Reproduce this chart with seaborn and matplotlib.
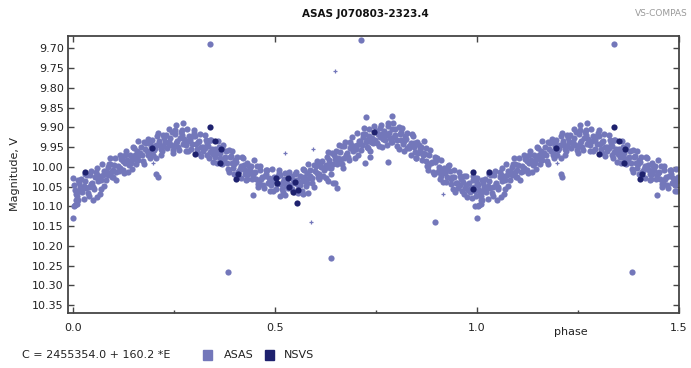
import matplotlib
matplotlib.use("Agg")
import matplotlib.pyplot as plt
import seaborn as sns
import pandas as pd
from matplotlib.patches import Rectangle
from matplotlib.ticker import FixedLocator

# ---------------- data ----------------
title = "ASAS J070803-2323.4"
epoch_text = "C = 2455354.0 + 160.2 *E"
x_ticks = [0.0, 0.5, 1.0, 1.5]
x_tick_labels = ["0.0", "0.5", "1.0", "1.5"]
y_ticks = [9.70, 9.75, 9.80, 9.85, 9.90, 9.95, 10.00, 10.05, 10.10, 10.15,
           10.20, 10.25, 10.30, 10.35]

# ASAS: magnitudes read in each 0.01-wide phase bin (bin i starts at 0.01*i)
asas_bin_mags = [
    [10.028, 10.047, 10.058, 10.069, 10.084], [10.033, 10.050, 10.061, 10.073, 10.040],
    [10.017, 10.032, 10.053, 10.065, 10.048], [10.036, 10.053, 10.020, 10.067, 10.075],
    [10.022, 10.040, 10.011, 10.052, 10.044], [10.020, 10.050, 10.027, 10.057, 10.012],
    [10.002, 10.037, 10.024, 10.032, 10.056], [9.992, 10.011, 10.022, 10.033, 10.048],
    [9.994, 10.011, 10.022, 10.034, 10.001], [9.977, 9.992, 10.013, 10.025, 10.008],
    [9.995, 10.012, 9.979, 10.026, 10.034], [9.981, 9.999, 9.970, 10.011, 10.003],
    [9.979, 10.009, 9.986, 10.016, 9.971], [9.960, 9.995, 9.982, 9.990, 10.014],
    [9.950, 9.969, 9.980, 9.991, 10.006], [9.952, 9.969, 9.980, 9.992, 9.959],
    [9.935, 9.950, 9.971, 9.983, 9.966], [9.954, 9.971, 9.938, 9.985, 9.993],
    [9.941, 9.959, 9.930, 9.971, 9.963], [9.940, 9.970, 9.947, 9.977, 9.932],
    [9.923, 9.958, 9.945, 9.953, 9.977], [9.915, 9.934, 9.945, 9.956, 9.971],
    [9.919, 9.936, 9.947, 9.959, 9.926], [9.905, 9.920, 9.941, 9.953, 9.936],
    [9.927, 9.944, 9.911, 9.958, 9.966], [9.917, 9.935, 9.906, 9.947, 9.939],
    [9.920, 9.950, 9.927, 9.957, 9.912], [9.907, 9.942, 9.929, 9.937, 9.961],
    [9.904, 9.923, 9.934, 9.945, 9.960], [9.914, 9.931, 9.942, 9.954, 9.921],
    [9.906, 9.921, 9.942, 9.954, 9.937], [9.934, 9.951, 9.918, 9.965, 9.973],
    [9.931, 9.949, 9.920, 9.961, 9.953], [9.940, 9.970, 9.947, 9.977, 9.932],
    [9.933, 9.968, 9.955, 9.963, 9.987], [9.935, 9.954, 9.965, 9.976, 9.991],
    [9.949, 9.966, 9.977, 9.989, 9.956], [9.944, 9.959, 9.980, 9.992, 9.975],
    [9.974, 9.991, 9.958, 10.005, 10.013], [9.972, 9.990, 9.961, 10.002, 9.994],
    [9.982, 10.012, 9.989, 10.019, 9.974], [9.975, 10.010, 9.997, 10.005, 10.029],
    [9.977, 9.996, 10.007, 10.018, 10.033], [9.990, 10.007, 10.018, 10.030, 9.997],
    [9.984, 9.999, 10.020, 10.032, 10.015], [10.013, 10.030, 9.997, 10.044, 10.052],
    [10.009, 10.027, 9.998, 10.039, 10.031], [10.017, 10.047, 10.024, 10.054, 10.009],
    [10.007, 10.042, 10.029, 10.037, 10.061], [10.006, 10.025, 10.036, 10.047, 10.062],
    [10.016, 10.033, 10.044, 10.056, 10.023], [10.007, 10.022, 10.043, 10.055, 10.038],
    [10.032, 10.049, 10.016, 10.063, 10.071], [10.024, 10.042, 10.013, 10.054, 10.046],
    [10.027, 10.057, 10.034, 10.064, 10.019], [10.012, 10.047, 10.034, 10.042, 10.066],
    [10.005, 10.024, 10.035, 10.046, 10.061], [10.009, 10.026, 10.037, 10.049, 10.016],
    [9.993, 10.008, 10.029, 10.041, 10.024], [10.011, 10.028, 9.995, 10.042, 10.050],
    [9.997, 10.015, 9.986, 10.027, 10.019], [9.994, 10.024, 10.001, 10.031, 9.986],
    [9.974, 10.009, 9.996, 10.004, 10.028], [9.963, 9.982, 9.993, 10.004, 10.019],
    [9.964, 9.981, 9.992, 10.004, 9.971], [9.946, 9.961, 9.982, 9.994, 9.977],
    [9.963, 9.980, 9.947, 9.994, 10.002], [9.948, 9.966, 9.937, 9.978, 9.970],
    [9.945, 9.975, 9.952, 9.982, 9.937], [9.925, 9.960, 9.947, 9.955, 9.979],
    [9.915, 9.934, 9.945, 9.956, 9.971], [9.917, 9.934, 9.945, 9.957, 9.924],
    [9.901, 9.916, 9.937, 9.949, 9.932], [9.921, 9.938, 9.905, 9.952, 9.960],
    [9.909, 9.927, 9.898, 9.939, 9.931], [9.910, 9.940, 9.917, 9.947, 9.902],
    [9.895, 9.930, 9.917, 9.925, 9.949], [9.890, 9.909, 9.920, 9.931, 9.946],
    [9.898, 9.915, 9.926, 9.938, 9.905], [9.889, 9.904, 9.925, 9.937, 9.920],
    [9.916, 9.933, 9.900, 9.947, 9.955], [9.913, 9.931, 9.902, 9.943, 9.935],
    [9.923, 9.953, 9.930, 9.960, 9.915], [9.917, 9.952, 9.939, 9.947, 9.971],
    [9.921, 9.940, 9.951, 9.962, 9.977], [9.937, 9.954, 9.965, 9.977, 9.944],
    [9.935, 9.950, 9.971, 9.983, 9.966], [9.968, 9.985, 9.952, 9.999, 10.007],
    [9.969, 9.987, 9.958, 9.999, 9.991], [9.982, 10.012, 9.989, 10.019, 9.974],
    [9.978, 10.013, 10.000, 10.008, 10.032], [9.983, 10.002, 10.013, 10.024, 10.039],
    [9.999, 10.016, 10.027, 10.039, 10.006], [9.995, 10.010, 10.031, 10.043, 10.026],
    [10.025, 10.042, 10.009, 10.056, 10.064], [10.023, 10.041, 10.012, 10.053, 10.045],
    [10.032, 10.062, 10.039, 10.069, 10.024], [10.023, 10.058, 10.045, 10.053, 10.077],
    [10.023, 10.042, 10.053, 10.064, 10.079], [10.034, 10.051, 10.062, 10.074, 10.041],
]
# positions of the five points inside a bin (three alternating layouts)
asas_sub_phase = [[0.001, 0.003, 0.005, 0.007, 0.009],
                  [0.002, 0.008, 0.004, 0.000, 0.006],
                  [0.009, 0.001, 0.006, 0.003, 0.007]]

# ASAS scattered points outside the main band
asas_extra_phase = [0.001, 0.003, 0.010, 0.339, 0.713, 0.384, 0.639, 0.896,
                    0.207, 0.210, 0.723, 0.780, 0.735, 0.649, 0.653, 0.631,
                    0.644, 0.790, 0.725, 0.005, 0.012, 0.027, 0.060, 0.050,
                    0.067, 0.272, 0.255, 0.512, 0.446, 0.569, 0.582, 0.995]
asas_extra_mag = [10.130, 10.100, 10.095, 9.689, 9.678, 10.266, 10.230, 10.140,
                  10.018, 10.026, 9.990, 9.988, 9.975, 10.040, 10.053, 10.035,
                  10.040, 9.872, 9.875, 10.097, 10.084, 10.082, 10.076, 10.084,
                  10.070, 9.888, 9.893, 10.073, 10.071, 10.069, 10.066, 10.100]

# ASAS low-weight points (small crosses)
asas_small_phase = [0.649, 0.589, 0.198, 0.525, 0.594, 0.916]
asas_small_mag = [9.757, 10.140, 9.990, 9.965, 9.955, 10.070]

# NSVS points
nsvs_phase = [0.030, 0.196, 0.302, 0.339, 0.351, 0.366, 0.364, 0.409, 0.403,
              0.502, 0.505, 0.533, 0.550, 0.535, 0.545, 0.556, 0.555, 0.745,
              0.990, 0.990]
nsvs_mag = [10.012, 9.952, 9.968, 9.900, 9.935, 9.955, 9.990, 10.018, 10.031,
            10.028, 10.040, 10.028, 10.038, 10.050, 10.063, 10.058, 10.092,
            9.912, 10.013, 10.056]

ASAS_COLOR = "#7377ba"
NSVS_COLOR = "#1e216e"
SPINE = "#454545"

# ---------------- build tables ----------------
ph, mg = [], []
for i, mags in enumerate(asas_bin_mags):
    subs = asas_sub_phase[i % 3]
    for s, m in zip(subs, mags):
        ph.append(round(0.01 * i + s, 4))
        mg.append(m)
ph += asas_extra_phase
mg += asas_extra_mag


def fold(phases, mags):
    """Repeat the cycle so the plot covers phase 0 .. 1.5."""
    p2 = list(phases) + [p + 1 for p in phases if p + 1 <= 1.5]
    m2 = list(mags) + [m for p, m in zip(phases, mags) if p + 1 <= 1.5]
    return pd.DataFrame({"phase": p2, "mag": m2})


asas_df = fold(ph, mg)
small_df = fold(asas_small_phase, asas_small_mag)
nsvs_df = fold(nsvs_phase, nsvs_mag)

# ---------------- figure ----------------
sns.set_theme(style="white")
plt.rcParams["font.family"] = ["DejaVu Sans"]

fig = plt.figure(figsize=(6.91, 3.68), dpi=100)
ax = fig.add_axes([68 / 691, 1 - 313 / 368, (679 - 68) / 691, (313 - 36) / 368])

sns.scatterplot(data=asas_df, x="phase", y="mag", ax=ax, color=ASAS_COLOR,
                s=20, marker="o", linewidth=0, legend=False, zorder=2)
sns.scatterplot(data=small_df, x="phase", y="mag", ax=ax, color=ASAS_COLOR,
                s=10, marker="+", linewidth=0.9, legend=False, zorder=2)
sns.scatterplot(data=nsvs_df, x="phase", y="mag", ax=ax, color=NSVS_COLOR,
                s=20, marker="o", linewidth=0, legend=False, zorder=3)

ax.set_xlim(-0.012, 1.5)
ax.set_ylim(10.37, 9.669)
ax.set_xlabel("")
ax.set_ylabel("Magnitude, V", fontsize=8, color="#222222", labelpad=9)

ax.xaxis.set_major_locator(FixedLocator(x_ticks))
ax.set_xticklabels(x_tick_labels)
ax.xaxis.set_minor_locator(FixedLocator([0.25, 0.75, 1.25]))
ax.yaxis.set_major_locator(FixedLocator(y_ticks))
ax.set_yticklabels([f"{v:.2f}" for v in y_ticks])

ax.tick_params(axis="x", which="major", direction="in", length=4, width=1,
               color=SPINE, top=True, bottom=True, labelsize=8, pad=7,
               labelcolor="#222222")
ax.tick_params(axis="x", which="minor", direction="in", length=2.5, width=1,
               color=SPINE, top=False, bottom=True)
ax.tick_params(axis="y", which="major", direction="in", length=4, width=1,
               color=SPINE, left=True, right=True, labelsize=8, pad=3,
               labelcolor="#222222")
for sp in ax.spines.values():
    sp.set_color(SPINE)
    sp.set_linewidth(1.3)

fig.text(365 / 691, 1 - 14 / 368, title, ha="center", va="center",
         fontsize=7.5, fontweight="bold", color="#111111")
fig.text(688 / 691, 1 - 14 / 368, "VS-COMPAS", ha="right", va="center",
         fontsize=6.5, color="#9a9a9a")
fig.text(571 / 691, 1 - 332 / 368, "phase", ha="center", va="center",
         fontsize=8, color="#222222")

# bottom legend
fig.text(22 / 691, 1 - 355 / 368, epoch_text, ha="left", va="center",
         fontsize=8, color="#222222")
fig.patches.append(Rectangle((203 / 691, 1 - 360 / 368), 9 / 691, 10 / 368,
                             transform=fig.transFigure, color=ASAS_COLOR))
fig.text(224 / 691, 1 - 355 / 368, "ASAS", ha="left", va="center",
         fontsize=8, color="#222222")
fig.patches.append(Rectangle((265 / 691, 1 - 360 / 368), 9 / 691, 10 / 368,
                             transform=fig.transFigure, color=NSVS_COLOR))
fig.text(284 / 691, 1 - 355 / 368, "NSVS", ha="left", va="center",
         fontsize=8, color="#222222")

fig.savefig("out.png", dpi=100)
